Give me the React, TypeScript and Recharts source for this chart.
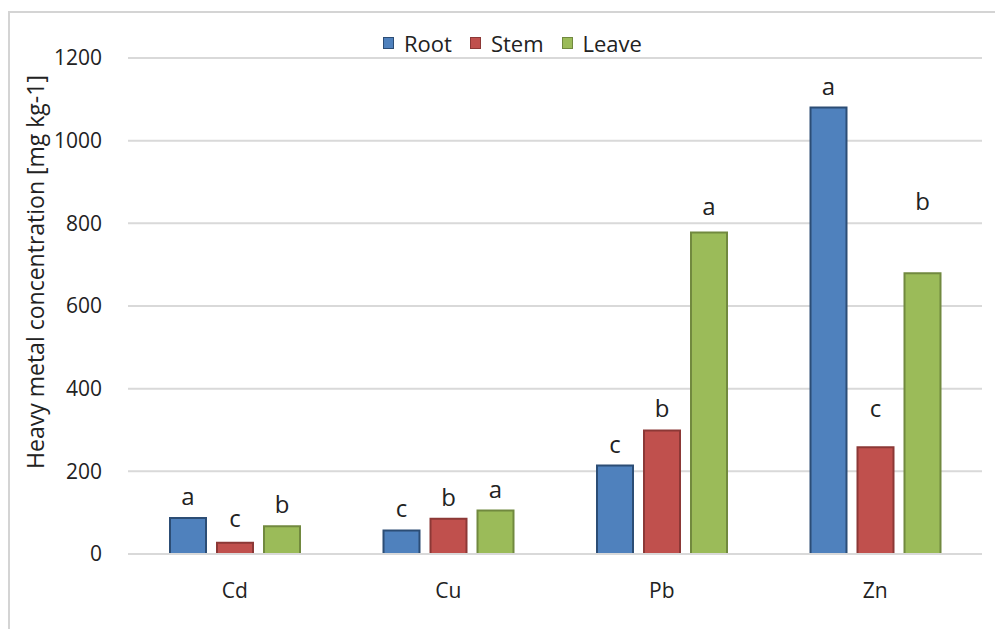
import { BarChart, Bar, XAxis, YAxis, CartesianGrid, LabelList } from 'recharts';

const categories = ['Cd', 'Cu', 'Pb', 'Zn'];
const rootValues = [87, 57, 214, 1080];
const stemValues = [27, 85, 299, 258];
const leaveValues = [67, 105, 778, 679];
const rootLetters = ['a', 'c', 'c', 'a'];
const stemLetters = ['c', 'b', 'b', 'c'];
const leaveLetters = ['b', 'a', 'a', 'b'];
const yTicks = [0, 200, 400, 600, 800, 1000, 1200];

const FONT = '"Open Sans", "Noto Sans", sans-serif';
const TEXT = '#222';
const GRID = '#d9d9d9';

const series = [
  { key: 'root', letterKey: 'rootLetter', name: 'Root', fill: '#4f81bd', stroke: '#2c4d75' },
  { key: 'stem', letterKey: 'stemLetter', name: 'Stem', fill: '#c0504d', stroke: '#8c3836' },
  { key: 'leave', letterKey: 'leaveLetter', name: 'Leave', fill: '#9bbb59', stroke: '#71893f' },
];

// extra lift for a few letters that sit higher above their bar
const labelLift: Record<string, number[]> = {
  root: [0, 0, 0, 0],
  stem: [3, 0, 0, 17],
  leave: [0, 0, 4, 50],
};

const data = categories.map((name, i) => ({
  name,
  root: rootValues[i],
  stem: stemValues[i],
  leave: leaveValues[i],
  rootLetter: rootLetters[i],
  stemLetter: stemLetters[i],
  leaveLetter: leaveLetters[i],
}));

function letterLabel(seriesKey: string) {
  return (props: any) => {
    const { x, y, width, value, index } = props;
    const lift = labelLift[seriesKey][index] || 0;
    return (
      <text
        x={Number(x) + Number(width) / 2}
        y={Number(y) - 13 - lift}
        textAnchor="middle"
        fontSize={24}
        fontFamily={FONT}
        fill={TEXT}
      >
        {value}
      </text>
    );
  };
}

function YLabel(props: any) {
  const { viewBox } = props;
  const cx = viewBox.x + 27;
  const cy = viewBox.y + viewBox.height / 2 - 34;
  return (
    <text
      x={cx}
      y={cy}
      transform={`rotate(-90, ${cx}, ${cy})`}
      textAnchor="middle"
      dominantBaseline="central"
      fontSize={23}
      fontFamily={FONT}
      fill={TEXT}
    >
      Heavy metal concentration [mg kg-1]
    </text>
  );
}

export default function App() {
  return (
    <div style={{ position: 'relative', width: 995, height: 621, fontFamily: FONT }}>
      <div
        style={{
          position: 'absolute',
          top: 3,
          left: 0,
          right: 0,
          bottom: -10,
          borderTop: '2px solid #d4d4d4',
          borderLeft: '2px solid #d4d4d4',
        }}
      />
      <div
        style={{
          position: 'absolute',
          top: 23,
          left: 375,
          display: 'flex',
          alignItems: 'center',
          fontSize: 22,
          color: TEXT,
          lineHeight: '24px',
          zIndex: 2,
        }}
      >
        {series.map((s, i) => (
          <div key={s.key} style={{ display: 'flex', alignItems: 'center', marginRight: i < 2 ? 18 : 0 }}>
            <span
              style={{
                width: 9,
                height: 10,
                background: s.fill,
                border: `1px solid ${s.stroke}`,
                marginRight: 10,
                display: 'inline-block',
              }}
            />
            <span>{s.name}</span>
          </div>
        ))}
      </div>
      <div style={{ position: 'absolute', top: 0, left: 0 }}>
        <BarChart
          width={995}
          height={621}
          data={data}
          margin={{ top: 50, right: 21, left: 0, bottom: 0 }}
          barSize={36}
          barGap={11}
        >
          <CartesianGrid vertical={false} stroke={GRID} strokeWidth={2} />
          <XAxis
            dataKey="name"
            height={75}
            axisLine={{ stroke: GRID, strokeWidth: 2 }}
            tickLine={false}
            tickSize={0}
            tickMargin={29}
            tick={{ fontSize: 21, fontFamily: FONT, fill: TEXT }}
          />
          <YAxis
            width={120}
            domain={[0, 1200]}
            ticks={yTicks}
            axisLine={false}
            tickLine={false}
            tickSize={0}
            tickMargin={26}
            tick={{ fontSize: 21, fontFamily: FONT, fill: TEXT }}
            label={<YLabel />}
          />
          {series.map((s) => (
            <Bar
              key={s.key}
              dataKey={s.key}
              name={s.name}
              fill={s.fill}
              stroke={s.stroke}
              strokeWidth={2}
              isAnimationActive={false}
            >
              <LabelList dataKey={s.letterKey} content={letterLabel(s.key)} />
            </Bar>
          ))}
        </BarChart>
      </div>
    </div>
  );
}
